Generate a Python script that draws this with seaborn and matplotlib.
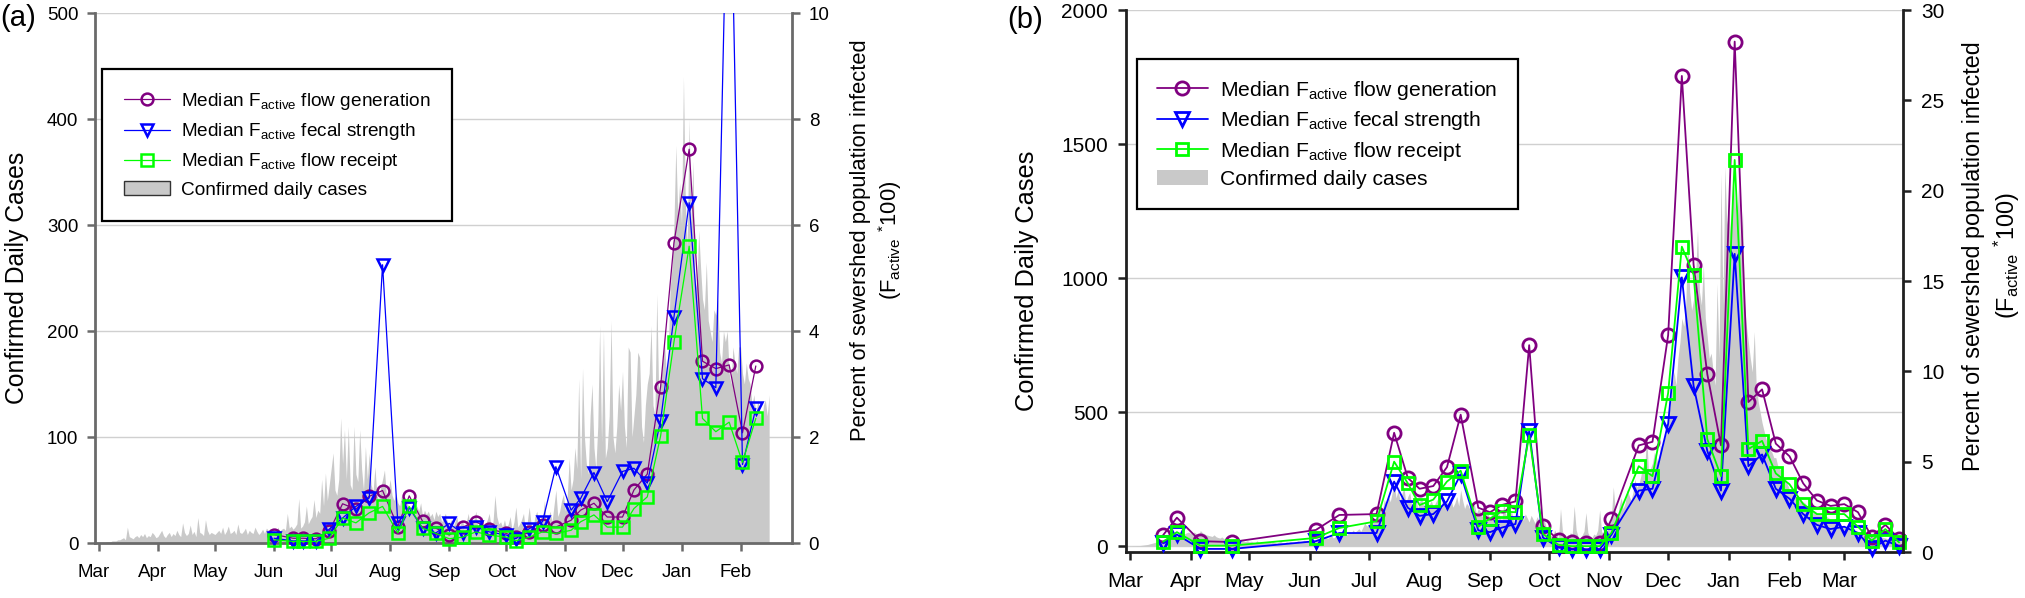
import numpy as np
import pandas as pd
import matplotlib
matplotlib.use("Agg")
import matplotlib.pyplot as plt
import matplotlib.dates as mdates
import seaborn as sns
from matplotlib.lines import Line2D
from matplotlib.patches import Patch
from matplotlib.transforms import Bbox, TransformedBbox, ScaledTranslation

# ---------------- panel (a) : confirmed daily cases, 2020-03-01 .. 2021-02-16
cases_a_mar = [0, 0, 0, 0, 1, 1, 1, 2, 2, 2, 3, 3, 4, 5, 3, 15, 6, 5, 4, 6,
               7, 5, 8, 6, 9, 5, 7, 6, 10, 8, 5]
cases_a_apr = [6, 9, 12, 7, 5, 8, 10, 6, 9, 7, 12, 8, 6, 19, 10, 7, 9, 17, 8, 11,
               6, 24, 10, 9, 7, 22, 12, 8, 10, 9]
cases_a_may = [8, 10, 12, 9, 15, 8, 11, 16, 9, 10, 12, 8, 18, 10, 9, 11, 14, 8, 12, 10,
               9, 15, 11, 8, 10, 13, 9, 14, 12, 10, 11]
cases_a_jun = [12, 10, 15, 11, 13, 14, 12, 28, 14, 16, 13, 15, 18, 42, 14, 16, 20, 35, 18, 22,
               25, 41, 24, 31, 28, 60, 35, 66, 40, 55]
cases_a_jul = [70, 85, 50, 45, 60, 118, 75, 107, 60, 110, 55, 50, 110, 65, 58, 107, 70, 50, 91, 60,
               85, 55, 48, 72, 45, 40, 52, 60, 69, 45, 50]
cases_a_aug = [60, 45, 40, 47, 38, 35, 45, 40, 35, 38, 32, 30, 40, 28, 35, 30, 38, 25, 31, 27,
               30, 25, 28, 22, 30, 25, 28, 20, 24, 28, 20]
cases_a_sep = [18, 22, 15, 20, 25, 14, 18, 22, 12, 20, 28, 15, 18, 22, 30, 14, 20, 25, 16, 18,
               22, 28, 15, 20, 45, 25, 18, 20, 15, 22]
cases_a_oct = [14, 18, 25, 12, 20, 34, 15, 18, 22, 28, 12, 20, 34, 18, 14, 25, 30, 20, 16, 22,
               40, 18, 24, 30, 20, 35, 50, 25, 30, 40, 46]
cases_a_nov = [30, 45, 80, 50, 60, 90, 70, 155, 60, 165, 100, 75, 65, 120, 150, 90, 70, 110, 205, 95,
               200, 80, 90, 120, 210, 100, 85, 110, 150, 125]
cases_a_dec = [162, 110, 90, 185, 180, 100, 120, 140, 180, 175, 110, 95, 130, 150, 160, 205, 130, 120, 235, 140,
               150, 170, 190, 160, 180, 240, 260, 300, 375, 310, 340]
cases_a_jan = [300, 440, 320, 280, 400, 300, 360, 250, 240, 295, 260, 230, 220, 265, 210, 200, 190, 220, 215, 230,
               180, 170, 200, 190, 200, 160, 150, 185, 170, 160, 185]
cases_a_feb = [185, 160, 150, 170, 155, 150, 130, 140, 120, 135, 125, 110, 130, 135, 120, 140]

# weekly medians of F_active (percent)
dates_a = ["2020-06-01", "2020-06-11", "2020-06-16", "2020-06-23", "2020-06-30", "2020-07-07",
           "2020-07-14", "2020-07-21", "2020-07-28", "2020-08-05", "2020-08-11", "2020-08-18",
           "2020-08-25", "2020-09-01", "2020-09-08", "2020-09-15", "2020-09-22", "2020-10-01",
           "2020-10-06", "2020-10-13", "2020-10-20", "2020-10-27", "2020-11-04", "2020-11-09",
           "2020-11-16", "2020-11-23", "2020-12-01", "2020-12-07", "2020-12-14", "2020-12-21",
           "2020-12-28", "2021-01-05", "2021-01-12", "2021-01-19", "2021-01-26", "2021-02-02",
           "2021-02-09"]
gen_a = [0.16, 0.09, 0.09, 0.08, 0.22, 0.74, 0.64, 0.88, 0.99, 0.31, 0.89, 0.41, 0.28, 0.15,
         0.30, 0.40, 0.27, 0.18, 0.11, 0.20, 0.34, 0.30, 0.43, 0.62, 0.75, 0.49, 0.49, 1.00,
         1.30, 2.95, 5.66, 7.43, 3.43, 3.29, 3.36, 2.08, 3.34]
fecal_a = [0.09, 0.04, 0.04, 0.03, 0.26, 0.47, 0.69, 0.85, 5.25, 0.38, 0.66, 0.28, 0.19, 0.37,
           0.18, 0.30, 0.21, 0.15, 0.08, 0.27, 0.40, 1.44, 0.62, 0.84, 1.33, 0.78, 1.35, 1.41,
           1.13, 2.31, 4.26, 6.42, 3.10, 2.93, 14.3, 1.48, 2.54]
recpt_a = [0.06, 0.03, 0.03, 0.03, 0.09, 0.47, 0.38, 0.57, 0.69, 0.19, 0.69, 0.28, 0.18, 0.08,
           0.11, 0.21, 0.15, 0.11, 0.04, 0.11, 0.21, 0.18, 0.24, 0.40, 0.53, 0.30, 0.30, 0.65,
           0.87, 2.02, 3.79, 5.60, 2.35, 2.10, 2.28, 1.52, 2.35]

# ---------------- panel (b) : confirmed daily cases, 2020-03-01 .. 2021-03-31
cases_b_mar = [0, 0, 1, 1, 2, 2, 3, 4, 5, 6, 8, 10, 12, 14, 16, 20, 22, 25, 28, 30,
               32, 35, 38, 40, 42, 45, 44, 48, 46, 50, 52]
cases_b_apr = [48, 50, 52, 45, 40, 58, 50, 46, 42, 40, 38, 36, 42, 35, 32, 30, 34, 28, 26, 30,
               25, 24, 22, 26, 20, 18, 22, 19, 17, 20]
cases_b_may = [16, 18, 15, 14, 20, 12, 15, 17, 13, 14, 16, 12, 18, 14, 11, 15, 17, 13, 12, 16,
               14, 18, 15, 13, 17, 20, 16, 18, 22, 19, 20]
cases_b_jun = [22, 25, 20, 24, 28, 30, 26, 32, 35, 28, 34, 38, 30, 36, 42, 40, 35, 45, 50, 42,
               55, 48, 60, 52, 58, 65, 55, 70, 86, 75]
cases_b_jul = [80, 95, 110, 90, 120, 140, 160, 130, 175, 150, 190, 165, 200, 235, 180, 210, 170, 195, 220, 160,
               185, 200, 150, 175, 190, 140, 165, 180, 150, 170, 160]
cases_b_aug = [155, 170, 145, 160, 175, 130, 150, 180, 140, 165, 155, 175, 145, 160, 185, 150, 209, 170, 140, 160,
               150, 130, 145, 155, 120, 140, 130, 110, 125, 115, 120]
cases_b_sep = [100, 125, 115, 90, 130, 110, 95, 160, 120, 100, 115, 130, 90, 110, 125, 100, 140, 95, 120, 105,
               90, 115, 100, 85, 110, 95, 80, 100, 90, 60]
cases_b_oct = [50, 40, 35, 60, 45, 30, 140, 55, 40, 30, 25, 50, 45, 150, 60, 35, 30, 40, 55, 125,
               50, 35, 30, 45, 40, 60, 135, 55, 40, 50, 60]
cases_b_nov = [90, 110, 221, 130, 100, 150, 180, 140, 160, 210, 190, 170, 200, 250, 220, 230, 260, 300, 280, 420,
               270, 290, 310, 350, 330, 300, 380, 360, 400, 420]
cases_b_dec = [480, 520, 600, 650, 600, 700, 760, 850, 820, 900, 1150, 950, 880, 920, 1000, 1180, 950, 900, 1050, 850,
               780, 700, 720, 650, 600, 980, 700, 1390, 900, 1415, 1200]
cases_b_jan = [1250, 1150, 1380, 1300, 1200, 1350, 1100, 1250, 900, 820, 760, 700, 650, 800, 600, 540, 500, 460, 430, 400,
               380, 360, 350, 330, 330, 300, 290, 280, 260, 250, 230]
cases_b_feb = [210, 200, 195, 190, 180, 175, 170, 165, 160, 150, 145, 140, 135, 130, 125, 122, 118, 115, 112, 110,
               105, 100, 95, 92, 90, 85, 80, 75]
cases_b_mar21 = [72, 70, 68, 65, 62, 60, 58, 55, 52, 50, 48, 46, 45, 44, 42, 40, 38, 36, 35, 34,
                 32, 30, 28, 27, 26, 25, 24, 23, 22, 21, 20]

dates_b = ["2020-03-18", "2020-03-25", "2020-04-06", "2020-04-22", "2020-06-04", "2020-06-16",
           "2020-07-05", "2020-07-14", "2020-07-21", "2020-07-27", "2020-08-03", "2020-08-10",
           "2020-08-17", "2020-08-26", "2020-09-01", "2020-09-07", "2020-09-14", "2020-09-21",
           "2020-09-28", "2020-10-06", "2020-10-13", "2020-10-20", "2020-10-27", "2020-11-02",
           "2020-11-16", "2020-11-23", "2020-12-01", "2020-12-08", "2020-12-14", "2020-12-21",
           "2020-12-28", "2021-01-04", "2021-01-11", "2021-01-18", "2021-01-25", "2021-02-01",
           "2021-02-08", "2021-02-15", "2021-02-22", "2021-03-01", "2021-03-08", "2021-03-15",
           "2021-03-22", "2021-03-29"]
gen_b = [0.94, 1.90, 0.60, 0.55, 1.22, 2.05, 2.10, 6.60, 4.10, 3.50, 3.65, 4.70, 7.60, 2.45,
         2.20, 2.60, 2.80, 11.45, 1.45, 0.65, 0.57, 0.50, 0.50, 1.80, 5.90, 6.10, 12.00, 26.35,
         15.90, 9.85, 5.90, 28.25, 8.30, 9.00, 6.00, 5.30, 3.80, 2.85, 2.55, 2.65, 2.20, 0.85,
         1.50, 0.74]
fecal_b = [0.48, 0.97, 0.17, 0.17, 0.60, 1.05, 1.05, 3.90, 2.45, 2.00, 2.10, 2.80, 4.30, 1.20,
           1.10, 1.35, 1.55, 6.70, 0.80, 0.25, 0.15, 0.15, 0.15, 0.95, 3.40, 3.50, 7.10, 15.20,
           9.20, 5.60, 3.40, 16.50, 4.75, 5.40, 3.50, 2.95, 2.10, 1.50, 1.27, 1.40, 1.05, 0.20,
           0.63, 0.32]
recpt_b = [0.57, 1.10, 0.35, 0.35, 0.78, 1.33, 1.70, 5.00, 3.80, 2.60, 2.90, 3.90, 4.50, 1.40,
           1.85, 2.25, 2.20, 6.45, 1.00, 0.40, 0.32, 0.32, 0.32, 1.05, 4.75, 4.20, 8.80, 16.90,
           15.35, 6.25, 4.20, 21.70, 5.70, 6.15, 4.35, 3.75, 2.65, 2.10, 2.10, 2.10, 1.40, 0.63,
           1.27, 0.53]

LABELS = [r"Median F$_{\mathrm{active}}$ flow generation",
          r"Median F$_{\mathrm{active}}$ fecal strength",
          r"Median F$_{\mathrm{active}}$ flow receipt",
          "Confirmed daily cases"]
PURPLE, BLUE, GREEN, GRAY = "#800080", "#0000ff", "#00ff00", "#c9c9c9"

sns.set_style("ticks")
plt.rcParams["font.family"] = ["Liberation Sans", "DejaVu Sans"]
plt.rcParams["mathtext.fontset"] = "custom"
plt.rcParams["mathtext.rm"] = "Liberation Sans"
plt.rcParams["mathtext.it"] = "Liberation Sans:italic"
plt.rcParams["mathtext.bf"] = "Liberation Sans:bold"
plt.rcParams["text.color"] = "black"


def daily(start, months):
    vals = np.concatenate([np.asarray(m, dtype=float) for m in months])
    return pd.date_range(start, periods=len(vals), freq="D"), vals


def panel(fig, rect, cases, pts, cfg):
    ax = fig.add_axes(rect)
    ax.set_axisbelow(True)
    ax.yaxis.grid(True, color="#d0d0d0", lw=1.0)
    d, v = cases
    ax.fill_between(d, 0, v, color=GRAY, lw=0, zorder=1)
    ax.set_ylim(*cfg["ylim"])
    ax.set_yticks(cfg["yticks"])
    ax.set_xlim(pd.Timestamp(cfg["xlim"][0]), pd.Timestamp(cfg["xlim"][1]))
    ax.xaxis.set_major_locator(mdates.MonthLocator())
    ax.xaxis.set_major_formatter(mdates.DateFormatter("%b"))

    ax2 = ax.twinx()
    df = pd.DataFrame({"date": pd.to_datetime(pts[0]), "gen": pts[1],
                       "fecal": pts[2], "recpt": pts[3]})
    for col, color, mk, ms in [("gen", PURPLE, "o", cfg["ms"]), ("fecal", BLUE, "v", cfg["ms"] + 0.5),
                               ("recpt", GREEN, "s", cfg["ms"] - 0.5)]:
        sns.lineplot(data=df, x="date", y=col, ax=ax2, color=color, marker=mk, markersize=ms,
                     markerfacecolor="none", markeredgecolor=color,
                     markeredgewidth=cfg["mew"], lw=cfg["lw"])
    clip = TransformedBbox(Bbox([[-0.02, -0.05], [1.02, 1.0]]), ax2.transAxes)
    for ln in ax2.lines:
        ln.set_clip_path(None)
        ln.set_clip_box(clip)
    ax2.set_ylim(*cfg["y2lim"])
    ax2.set_yticks(cfg["y2ticks"])
    ax.set_xlim(pd.Timestamp(cfg["xlim"][0]), pd.Timestamp(cfg["xlim"][1]))
    ax.set_xlabel("")
    ax.set_ylabel("")
    ax2.set_xlabel("")
    ax2.set_ylabel("")

    sc = cfg["spine"]
    for a in (ax, ax2):
        for s in a.spines.values():
            s.set_visible(False)
    ax.spines["left"].set_visible(True)
    ax.spines["bottom"].set_visible(True)
    ax2.spines["right"].set_visible(True)
    for s in (ax.spines["left"], ax.spines["bottom"], ax2.spines["right"]):
        s.set_color(sc)
        s.set_linewidth(2.0)
    fs = cfg["fs"]
    ax.tick_params(axis="y", direction="out", length=6, width=1.8, color=sc,
                   labelsize=fs, pad=cfg["ypad"], labelcolor="black", right=False)
    ax.tick_params(axis="x", direction="out", length=6, width=1.8, color=sc,
                   labelsize=fs, pad=cfg["xpad"], labelcolor="black")
    ax2.tick_params(axis="y", direction="out", length=6, width=1.8, color=sc,
                    labelsize=fs, pad=cfg["ypad"], labelcolor="black")
    shift = ScaledTranslation(-5 / 100, 0, fig.dpi_scale_trans)
    for lab in ax.get_xticklabels():
        lab.set_transform(lab.get_transform() + shift)

    handles = [
        Line2D([], [], color=PURPLE, marker="o", ms=cfg["ms"], mfc="none", mec=PURPLE,
               mew=cfg["mew"], lw=cfg["lw"]),
        Line2D([], [], color=BLUE, marker="v", ms=cfg["ms"] + 0.5, mfc="none", mec=BLUE,
               mew=cfg["mew"], lw=cfg["lw"]),
        Line2D([], [], color=GREEN, marker="s", ms=cfg["ms"] - 0.5, mfc="none", mec=GREEN,
               mew=cfg["mew"], lw=cfg["lw"]),
        Patch(facecolor=GRAY, edgecolor=cfg["patch_edge"], lw=1.0),
    ]
    leg = ax2.legend(handles, LABELS, loc="upper left", bbox_to_anchor=cfg["leg_anchor"],
                     borderaxespad=0, fontsize=cfg["leg_fs"], frameon=True, fancybox=False,
                     framealpha=1, edgecolor="black", handlelength=2.4, handletextpad=0.6,
                     labelspacing=cfg["leg_sp"], borderpad=cfg["leg_pad"])
    leg.get_frame().set_linewidth(1.6)
    return ax, ax2


W, H = 2025, 598
fig = plt.figure(figsize=(W / 100, H / 100), dpi=100)

cfg_a = dict(ylim=(0, 500), yticks=[0, 100, 200, 300, 400, 500], y2lim=(0, 10),
             y2ticks=[0, 2, 4, 6, 8, 10], xlim=("2020-02-28", "2021-02-28"),
             ms=8.5, mew=1.8, lw=0.9, spine="#6a6a6a", fs=13.5, ypad=6, xpad=9,
             leg_fs=13.7, leg_anchor=(0.010, 0.894), patch_edge="#333333",
             leg_sp=0.48, leg_pad=1.15)
cfg_b = dict(ylim=(-22, 2000), yticks=[0, 500, 1000, 1500, 2000], y2lim=(0, 30),
             y2ticks=[0, 5, 10, 15, 20, 25, 30], xlim=("2020-02-28", "2021-03-31"),
             ms=9.5, mew=2.0, lw=1.3, spine="#202020", fs=15, ypad=7, xpad=8.5,
             leg_fs=15.2, leg_anchor=(0.014, 0.91), patch_edge="none",
             leg_sp=0.35, leg_pad=0.95)

cases_a = daily("2020-03-01", [cases_a_mar, cases_a_apr, cases_a_may, cases_a_jun, cases_a_jul,
                               cases_a_aug, cases_a_sep, cases_a_oct, cases_a_nov, cases_a_dec,
                               cases_a_jan, cases_a_feb])
cases_b = daily("2020-03-01", [cases_b_mar, cases_b_apr, cases_b_may, cases_b_jun, cases_b_jul,
                               cases_b_aug, cases_b_sep, cases_b_oct, cases_b_nov, cases_b_dec,
                               cases_b_jan, cases_b_feb, cases_b_mar21])

panel(fig, [95 / W, 1 - 543 / H, (792 - 95) / W, (543 - 13) / H], cases_a,
      (dates_a, gen_a, fecal_a, recpt_a), cfg_a)
panel(fig, [1126 / W, 1 - 552 / H, (1903 - 1126) / W, (552 - 10) / H], cases_b,
      (dates_b, gen_b, fecal_b, recpt_b), cfg_b)

y2lab = "Percent of sewershed population infected\n" + r"(F$_{\mathrm{active}}$ $^{*}$100)"
fig.text(17 / W, 1 - 278 / H, "Confirmed Daily Cases", rotation=90, ha="center", va="center",
         fontsize=17.8)
fig.text(877 / W, 1 - 240 / H, y2lab, rotation=90, ha="center", va="center",
         multialignment="center", fontsize=15.8, linespacing=1.25)
fig.text(1027 / W, 1 - 281 / H, "Confirmed Daily Cases", rotation=90, ha="center", va="center",
         fontsize=18.3)
fig.text(1992 / W, 1 - 256 / H, y2lab, rotation=90, ha="center", va="center",
         multialignment="center", fontsize=16.8, linespacing=1.3)
fig.text(0 / W, 1 - 18 / H, "(a)", ha="left", va="center", fontsize=21)
fig.text(1007 / W, 1 - 20 / H, "(b)", ha="left", va="center", fontsize=21)

fig.savefig("out.png", dpi=100)
